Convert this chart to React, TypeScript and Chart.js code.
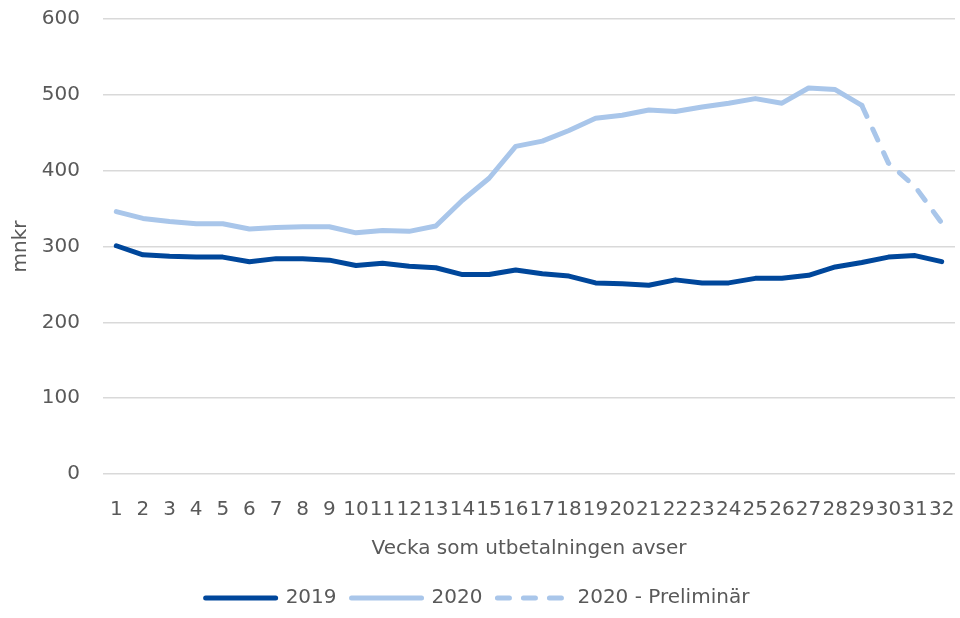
import React, { useEffect, useRef } from "react";
import { Chart, registerables } from "chart.js";

Chart.register(...registerables);

const weeks = ["1","2","3","4","5","6","7","8","9","10","11","12","13","14","15","16","17","18","19","20","21","22","23","24","25","26","27","28","29","30","31","32"];
const values2019 = [301, 289, 287, 286, 286, 280, 284, 284, 282, 275, 278, 274, 272, 263, 263, 269, 264, 261, 252, 251, 249, 256, 252, 252, 258, 258, 262, 273, 279, 286, 288, 280];
const values2020 = [346, 337, 333, 330, 330, 323, 325, 326, 326, 318, 321, 320, 327, 361, 390, 432, 439, 453, 469, 473, 480, 478, 484, 489, 495, 489, 509, 507, 486, null, null, null];
const values2020Prel = [null, null, null, null, null, null, null, null, null, null, null, null, null, null, null, null, null, null, null, null, null, null, null, null, null, null, null, null, 486, 410, 379, 331];
const yTicks = [0, 100, 200, 300, 400, 500, 600];
const seriesNames = ["2019", "2020", "2020 - Preliminär"];
const yTitle = "mnkr";
const xTitle = "Vecka som utbetalningen avser";

const DARK = "#00479b";
const LIGHT = "#a9c6ea";
const TEXT = "#595959";
const FONT = '"DejaVu Sans", sans-serif';

export default function App() {
  const ref = useRef<HTMLCanvasElement | null>(null);

  useEffect(() => {
    document.body.style.margin = "0";
    const canvas = ref.current;
    if (!canvas) return;
    Chart.defaults.font.family = FONT;
    Chart.defaults.color = TEXT;
    const chart = new Chart(canvas, {
      type: "line",
      data: {
        labels: weeks,
        datasets: [
          {
            label: seriesNames[0],
            data: values2019,
            borderColor: DARK,
            backgroundColor: DARK,
            borderWidth: 5,
            pointRadius: 0,
            tension: 0,
            borderCapStyle: "round",
            borderJoinStyle: "round",
          },
          {
            label: seriesNames[1],
            data: values2020,
            borderColor: LIGHT,
            backgroundColor: LIGHT,
            borderWidth: 5,
            pointRadius: 0,
            tension: 0,
            borderCapStyle: "round",
            borderJoinStyle: "round",
          },
          {
            label: seriesNames[2],
            data: values2020Prel,
            borderColor: LIGHT,
            backgroundColor: LIGHT,
            borderWidth: 5,
            borderDash: [12, 14],
            pointRadius: 0,
            tension: 0,
            borderCapStyle: "round",
            borderJoinStyle: "round",
          },
        ],
      },
      options: {
        responsive: false,
        maintainAspectRatio: false,
        animation: false,
        devicePixelRatio: 1,
        layout: { padding: { top: 19, right: 5, left: 0, bottom: 0 } },
        plugins: {
          tooltip: { enabled: false },
          legend: {
            position: "bottom",
            labels: {
              usePointStyle: true,
              pointStyle: "line",
              pointStyleWidth: 70,
              boxHeight: 10,
              padding: 15,
              color: TEXT,
              font: { size: 20, family: FONT },
              generateLabels: (c: any) =>
                c.data.datasets.map((ds: any, i: number) => ({
                  text: ds.label,
                  fillStyle: ds.borderColor,
                  strokeStyle: ds.borderColor,
                  lineWidth: 5,
                  lineDash: ds.borderDash || [],
                  lineDashOffset: 0,
                  lineCap: "round",
                  lineJoin: "round",
                  pointStyle: "line",
                  rotation: 0,
                  hidden: false,
                  datasetIndex: i,
                  fontColor: TEXT,
                })),
            },
          },
        },
        scales: {
          x: {
            type: "category",
            offset: true,
            grid: { display: false, drawTicks: false },
            border: { display: false },
            ticks: {
              autoSkip: false,
              maxRotation: 0,
              minRotation: 0,
              padding: 24,
              color: TEXT,
              font: { size: 20, family: FONT },
            },
            title: {
              display: true,
              text: xTitle,
              color: TEXT,
              font: { size: 20, family: FONT },
              padding: { top: 0, bottom: 12 },
            },
            afterFit: (scale: any) => {
              scale.height = 99;
              scale.paddingLeft = 0;
              scale.paddingRight = 0;
            },
          },
          y: {
            min: 0,
            max: 600,
            afterBuildTicks: (scale: any) => {
              scale.ticks = yTicks.map((v) => ({ value: v }));
            },
            grid: { color: "#d9d9d9", lineWidth: 1.5, drawTicks: false },
            border: { display: false },
            ticks: {
              padding: 23,
              color: TEXT,
              font: { size: 20, family: FONT },
            },
            title: {
              display: true,
              text: yTitle,
              color: TEXT,
              font: { size: 20, family: FONT },
              padding: { top: 9, bottom: 0 },
            },
            afterFit: (scale: any) => {
              scale.width = 103;
              scale.paddingTop = 0;
              scale.paddingBottom = 0;
            },
          },
        },
      },
    });
    return () => chart.destroy();
  }, []);

  return (
    <div style={{ width: 960, height: 618, background: "#fff" }}>
      <canvas ref={ref} width={960} height={618} style={{ display: "block", width: 960, height: 618 }} />
    </div>
  );
}
